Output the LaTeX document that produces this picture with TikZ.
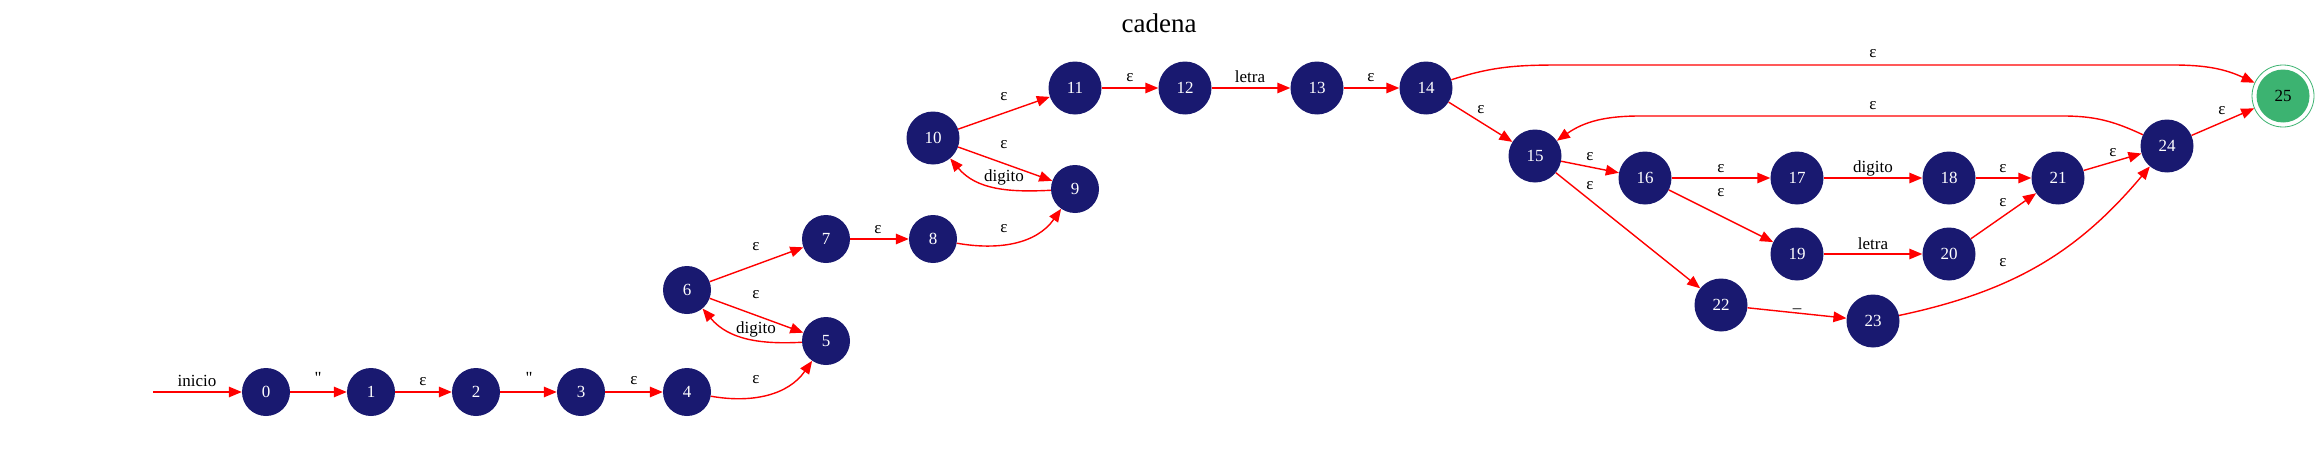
\documentclass[tikz,border=0pt]{standalone}
\usepackage{fontspec}
\setmainfont{Liberation Serif}[Ligatures=TeXOff]
\usetikzlibrary{arrows.meta}
\definecolor{nblue}{HTML}{191970}
\definecolor{ngreen}{HTML}{3CB371}
\definecolor{ered}{HTML}{FF0000}
\begin{document}
\begin{tikzpicture}[x=1pt,y=1pt,
  st/.style={circle,fill=nblue,text=white,minimum size=48pt,inner sep=0pt,font=\fontsize{17}{20}\selectfont},
  stw/.style={st,minimum size=53pt},
  edge/.style={draw=ered,line width=1.4pt,-{Triangle[length=13pt,width=10.5pt]}},
  lbl/.style={font=\fontsize{17}{20}\selectfont,inner sep=0pt,text=black}]
\fill[white] (0,0) rectangle (2319,-471);
\useasboundingbox (0,0) rectangle (2319,-471);

\node[font=\fontsize{27}{32}\selectfont] (title) at (1159,-23) {cadena};

% states
\node[st]  (n0)  at (266,-392) {0};
\node[st]  (n1)  at (371,-392) {1};
\node[st]  (n2)  at (476,-392) {2};
\node[st]  (n3)  at (581,-392) {3};
\node[st]  (n4)  at (687,-392) {4};
\node[st]  (n5)  at (826,-341) {5};
\node[st]  (n6)  at (687,-290) {6};
\node[st]  (n7)  at (826,-239) {7};
\node[st]  (n8)  at (933,-239) {8};
\node[st]  (n9)  at (1075,-189) {9};
\node[stw] (n10) at (933,-138) {10};
\node[stw] (n11) at (1075,-88) {11};
\node[stw] (n12) at (1185,-88) {12};
\node[stw] (n13) at (1317,-88) {13};
\node[stw] (n14) at (1426,-88) {14};
\node[stw] (n15) at (1535,-156) {15};
\node[stw] (n16) at (1645,-178) {16};
\node[stw] (n17) at (1797,-178) {17};
\node[stw] (n18) at (1949,-178) {18};
\node[stw] (n19) at (1797,-254) {19};
\node[stw] (n20) at (1949,-254) {20};
\node[stw] (n21) at (2058,-178) {21};
\node[stw] (n22) at (1721,-305) {22};
\node[stw] (n23) at (1873,-321) {23};
\node[stw] (n24) at (2167,-146) {24};
\node[circle,draw=ngreen,line width=0.8pt,minimum size=62pt,inner sep=0pt] (n25) at (2283,-96) {};
\node[stw,fill=ngreen,text=black] (n25i) at (n25) {25};

\coordinate (start) at (153,-392);
\coordinate (c1) at (1560,-65);
\coordinate (c2) at (2173,-65);
\coordinate (c3) at (2063,-116);
\coordinate (c4) at (1640,-116);

% transitions
\draw[edge] (start) -- (n0) node[lbl] at (197,-381) {inicio};
\draw[edge] (n0) -- (n1) node[lbl] at (318,-378) {"};
\draw[edge] (n1) -- (n2) node[lbl] at (423,-382) {ε};
\draw[edge] (n2) -- (n3) node[lbl] at (529,-378) {"};
\draw[edge] (n3) -- (n4) node[lbl] at (634,-381) {ε};
\draw[edge] (n4) to[out=-10,in=-125] (n5) node[lbl] at (756,-380) {ε};
\draw[edge] (n6) -- (n7) node[lbl] at (756,-247) {ε};
\draw[edge] (n6) -- (n5) node[lbl] at (756,-295) {ε};
\draw[edge] (n5) to[out=183,in=-50] (n6) node[lbl] at (756,-329) {digito};
\draw[edge] (n7) -- (n8) node[lbl] at (878,-230) {ε};
\draw[edge] (n8) to[out=-10,in=-125] (n9) node[lbl] at (1004,-229) {ε};
\draw[edge] (n10) -- (n11) node[lbl] at (1004,-97) {ε};
\draw[edge] (n10) -- (n9) node[lbl] at (1004,-145) {ε};
\draw[edge] (n9) to[out=183,in=-50] (n10) node[lbl] at (1004,-177) {digito};
\draw[edge] (n11) -- (n12) node[lbl] at (1130,-78) {ε};
\draw[edge] (n12) -- (n13) node[lbl] at (1250,-77) {letra};
\draw[edge] (n13) -- (n14) node[lbl] at (1371,-78) {ε};
\draw[edge] (n14) to[out=18,in=180] (c1) -- (c2) to[out=0,in=155] (n25) node[lbl] at (1873,-54) {ε};
\draw[edge] (n14) -- (n15) node[lbl] at (1481,-110) {ε};
\draw[edge] (n24) to[out=155,in=0] (c3) -- (c4) to[out=180,in=35] (n15) node[lbl] at (1873,-106) {ε};
\draw[edge] (n15) -- (n16) node[lbl] at (1590,-157) {ε};
\draw[edge] (n15) -- (n22) node[lbl] at (1590,-186) {ε};
\draw[edge] (n16) -- (n17) node[lbl] at (1721,-169) {ε};
\draw[edge] (n16) -- (n19) node[lbl] at (1721,-193) {ε};
\draw[edge] (n17) -- (n18) node[lbl] at (1873,-168) {digito};
\draw[edge] (n19) -- (n20) node[lbl] at (1873,-244) {letra};
\draw[edge] (n18) -- (n21) node[lbl] at (2003,-169) {ε};
\draw[edge] (n20) -- (n21) node[lbl] at (2003,-203) {ε};
\draw[edge] (n21) -- (n24) node[lbl] at (2113,-153) {ε};
\draw[edge] (n22) -- (n23) node[lbl] at (1797,-309) {\_};
\draw[edge] (n23) to[out=12,in=-130] (n24) node[lbl] at (2003,-263) {ε};
\draw[edge] (n24) -- (n25) node[lbl] at (2222,-111) {ε};
\end{tikzpicture}
\end{document}
